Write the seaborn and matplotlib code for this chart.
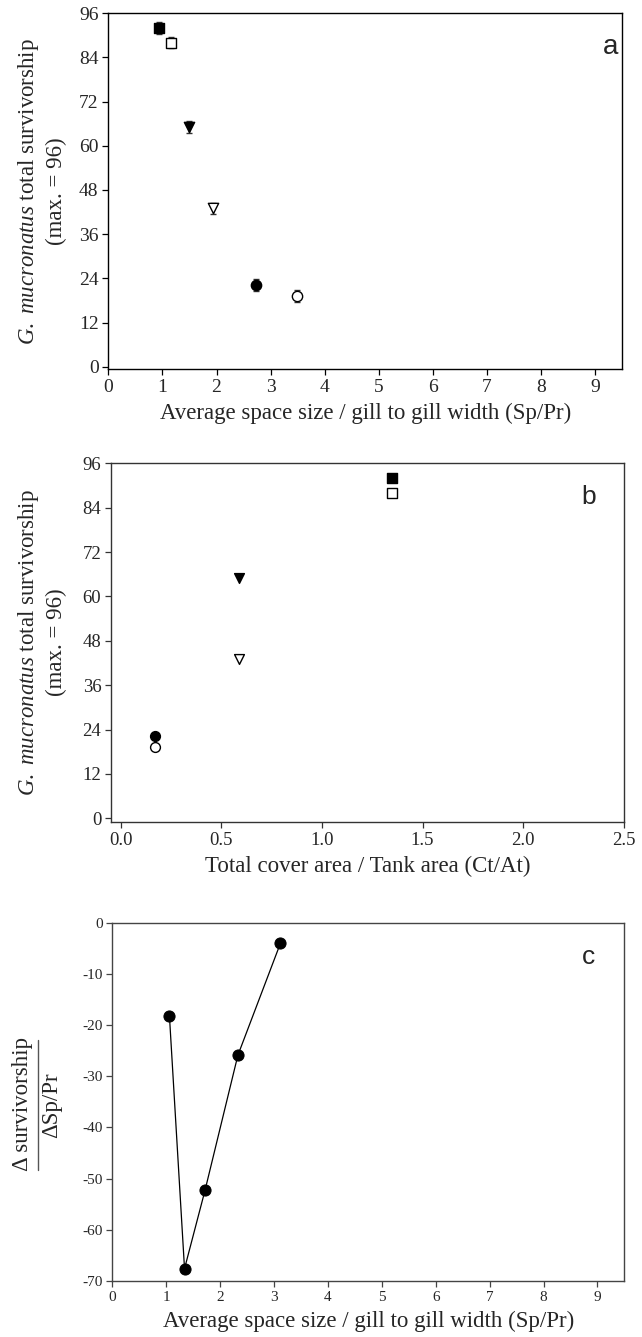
import matplotlib
matplotlib.use("Agg")
import matplotlib.pyplot as plt
from matplotlib.lines import Line2D
import seaborn as sns
import pandas as pd

# ---- data ----
treatments = ["sq_filled", "sq_open", "tri_filled", "tri_open", "circ_filled", "circ_open"]
sp_pr = [0.94, 1.16, 1.50, 1.93, 2.73, 3.48]
survivorship = [92.0, 88.0, 65.0, 43.0, 22.2, 19.2]
surv_err = [1.6, 1.5, 1.6, 1.5, 1.6, 1.5]
ct_at = [1.35, 1.35, 0.59, 0.59, 0.17, 0.17]
marker_shapes = ["s", "s", "v", "v", "o", "o"]
marker_filled = [True, False, True, False, True, False]

delta_x = [1.06, 1.34, 1.72, 2.33, 3.12]
delta_y = [-18.2, -67.6, -52.3, -25.9, -4.0]

xticks_a = [0, 1, 2, 3, 4, 5, 6, 7, 8, 9]
yticks_a = [0, 12, 24, 36, 48, 60, 72, 84, 96]
xticks_b = [0.0, 0.5, 1.0, 1.5, 2.0, 2.5]
yticks_c = [0, -10, -20, -30, -40, -50, -60, -70]

sns.set_style("ticks")
plt.rcParams["font.family"] = ["Liberation Serif", "DejaVu Serif"]
plt.rcParams["mathtext.fontset"] = "custom"
plt.rcParams["mathtext.rm"] = "Liberation Serif"
plt.rcParams["mathtext.it"] = "Liberation Serif:italic"
plt.rcParams["mathtext.bf"] = "Liberation Serif:bold"
plt.rcParams["axes.unicode_minus"] = False

df = pd.DataFrame({"treat": treatments, "sp": sp_pr, "surv": survivorship,
                   "err": surv_err, "ct": ct_at})

fig = plt.figure(figsize=(6.42, 13.37), dpi=100)
ax_a = fig.add_axes([0.1687, 0.7238, 0.8006, 0.2663])
ax_b = fig.add_axes([0.1729, 0.3852, 0.7990, 0.2683])
ax_c = fig.add_axes([0.1749, 0.0419, 0.7977, 0.2680])

ylab = r"$G.$ $mucronatus$ total survivorship" + "\n(max. = 96)"

def style(ax, spine_color):
    for s in ax.spines.values():
        s.set_color(spine_color)
        s.set_linewidth(1.0)
    ax.tick_params(direction="out", length=4, width=0.9, color=spine_color,
                   top=False, right=False, pad=3)

# ---- panel a ----
for i, row in df.iterrows():
    ax_a.errorbar(row["sp"], row["surv"], yerr=row["err"], fmt="none",
                  ecolor="#333333", elinewidth=1.0, capsize=2, capthick=1.0, zorder=2)
    sns.scatterplot(x=[row["sp"]], y=[row["surv"]], ax=ax_a, marker=marker_shapes[i],
                    s=55, color="black" if marker_filled[i] else "white",
                    edgecolor="black", linewidth=1.0, zorder=3, legend=False)
ax_a.set_xlim(0, 9.5)
ax_a.set_ylim(-0.7, 96)
ax_a.set_xticks(xticks_a)
ax_a.set_yticks(yticks_a)
ax_a.set_xlabel("Average space size / gill to gill width (Sp/Pr)", fontsize=16.5, labelpad=5)
ax_a.set_ylabel(ylab, fontsize=16.5, linespacing=1.3)
ax_a.yaxis.set_label_coords(-0.080, 0.5)
ax_a.tick_params(labelsize=14)
style(ax_a, "black")
ax_a.text(0.977, 0.905, "a", transform=ax_a.transAxes, fontsize=20,
          family="Liberation Sans", ha="center", va="center")

# ---- panel b ----
for i, row in df.iterrows():
    sns.scatterplot(x=[row["ct"]], y=[row["surv"]], ax=ax_b, marker=marker_shapes[i],
                    s=50, color="black" if marker_filled[i] else "white",
                    edgecolor="black", linewidth=1.0, zorder=3, legend=False)
ax_b.set_xlim(-0.048, 2.5)
ax_b.set_ylim(-1.0, 96)
ax_b.set_xticks(xticks_b)
ax_b.set_xticklabels([f"{v:.1f}" for v in xticks_b])
ax_b.set_yticks(yticks_a)
ax_b.set_xlabel("Total cover area / Tank area (Ct/At)", fontsize=16.5, labelpad=5)
ax_b.set_ylabel(ylab, fontsize=16.5, linespacing=1.3)
ax_b.yaxis.set_label_coords(-0.086, 0.5)
ax_b.tick_params(labelsize=13.5)
style(ax_b, "#333333")
ax_b.text(0.932, 0.907, "b", transform=ax_b.transAxes, fontsize=19,
          family="Liberation Sans", ha="center", va="center")

# ---- panel c ----
sns.lineplot(x=delta_x, y=delta_y, ax=ax_c, color="black", linewidth=0.9,
             marker="o", markersize=8, markerfacecolor="black",
             markeredgecolor="black", sort=False)
ax_c.set_xlim(0, 9.5)
ax_c.set_ylim(-70, 0)
ax_c.set_xticks(xticks_a)
ax_c.set_yticks(yticks_c)
ax_c.set_xlabel("Average space size / gill to gill width (Sp/Pr)", fontsize=16.5, labelpad=5)
ax_c.tick_params(labelsize=11)
style(ax_c, "#444444")
# stacked fraction label
ax_c.text(-0.175, 0.494, "\u0394 survivorship", transform=ax_c.transAxes, rotation=90,
          rotation_mode="anchor", ha="center", va="center", fontsize=16.5)
ax_c.text(-0.118, 0.49, "\u0394Sp/Pr", transform=ax_c.transAxes, rotation=90,
          rotation_mode="anchor", ha="center", va="center", fontsize=16.5)
ax_c.add_line(Line2D([-0.146, -0.146], [0.310, 0.673], transform=ax_c.transAxes,
                     color="#555555", linewidth=1.0, clip_on=False))
ax_c.text(0.930, 0.904, "c", transform=ax_c.transAxes, fontsize=19,
          family="Liberation Sans", ha="center", va="center")

fig.savefig("out.png", dpi=100)
